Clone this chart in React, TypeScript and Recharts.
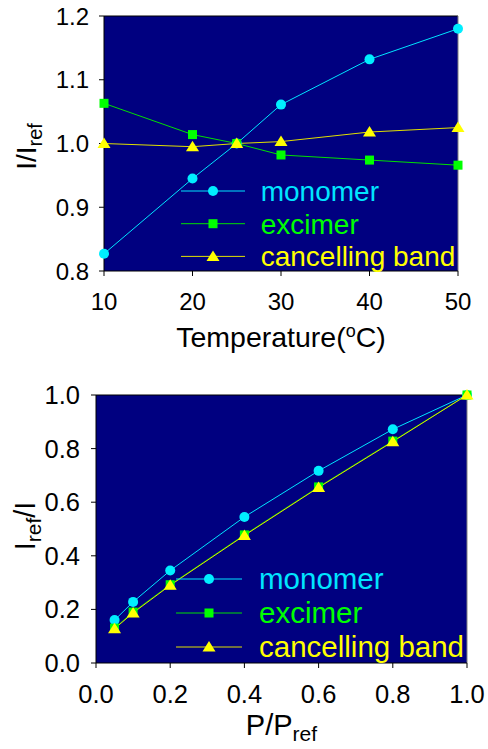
import React from 'react';
import { LineChart, Line, XAxis, YAxis, CartesianGrid, ReferenceLine } from 'recharts';

const FONT = '"Liberation Sans", Arial, sans-serif';

// Top chart data
const temps = [10, 20, 25, 30, 40, 50];
const tMonomer = [0.827, 0.945, 1.0, 1.061, 1.132, 1.180];
const tExcimer = [1.063, 1.014, 1.0, 0.982, 0.974, 0.966];
const tCancel = [1.000, 0.995, 1.0, 1.003, 1.018, 1.025];
const tXTicks = [10, 20, 30, 40, 50];
const tYTicks = [0.8, 0.9, 1.0, 1.1, 1.2];

// Bottom chart data
const pressures = [0.05, 0.1, 0.2, 0.4, 0.6, 0.8, 1.0];
const pMonomer = [0.16, 0.228, 0.345, 0.545, 0.717, 0.872, 1.0];
const pExcimer = [0.13, 0.19, 0.292, 0.478, 0.657, 0.828, 1.0];
const pCancel = [0.128, 0.187, 0.290, 0.476, 0.655, 0.826, 1.0];
const pXTicks = [0.0, 0.2, 0.4, 0.6, 0.8, 1.0];
const pYTicks = [0.0, 0.2, 0.4, 0.6, 0.8, 1.0];

const seriesNames = ['monomer', 'excimer', 'cancelling band'];
const lineColors = ['#00E5FF', '#00E000', '#E0E000'];
const markColors = ['#00EEFF', '#00FF00', '#FFFF00'];
const textColors = ['#00E5FF', '#00FF00', '#FFFF00'];

const topData = temps.map((t, i) => ({ x: t, m: tMonomer[i], e: tExcimer[i], c: tCancel[i] }));
const botData = pressures.map((p, i) => ({ x: p, m: pMonomer[i], e: pExcimer[i], c: pCancel[i] }));

const Marker = ({ kind, cx, cy, color }: any) => {
  if (cx == null || cy == null) return null;
  if (kind === 0) return <circle cx={cx} cy={cy} r={5} fill={color} stroke="none" />;
  if (kind === 1) return <rect x={cx - 4.5} y={cy - 4.5} width={9} height={9} fill={color} stroke="none" />;
  return <polygon points={`${cx},${cy - 6} ${cx - 6.5},${cy + 4.5} ${cx + 6.5},${cy + 4.5}`} fill={color} stroke="none" />;
};

const dotFn = (kind: number) => (props: any) => (
  <Marker key={`d-${kind}-${props.index}`} kind={kind} cx={props.cx} cy={props.cy} color={markColors[kind]} />
);

const LegendBox = ({ left, top, x0, x1, rowGap, textX, fontSize }: any) => (
  <svg width={300} height={rowGap * 3 + 20}
    style={{ position: 'absolute', left, top, overflow: 'visible', display: 'block', pointerEvents: 'none' }}>
    {seriesNames.map((n, i) => {
      const y = 14 + i * rowGap;
      return (
        <g key={n}>
          <line x1={x0} x2={x1} y1={y} y2={y} stroke={lineColors[i]} strokeWidth={1} />
          <Marker kind={i} cx={(x0 + x1) / 2} cy={y} color={markColors[i]} />
          <text x={textX} y={y + 10} fill={textColors[i]} fontSize={fontSize} fontFamily={FONT}>{n}</text>
        </g>
      );
    })}
  </svg>
);

const tickStyle = { fontSize: 24, fill: '#000', fontFamily: FONT };
const tickStyleB = { fontSize: 25.5, fill: '#000', fontFamily: FONT };

const TopXLabel = (props: any) => {
  const vb = props.viewBox || {};
  const cx = vb.x + vb.width / 2;
  const y = vb.y + 76;
  return (
    <text x={cx} y={y} textAnchor="middle" fontSize={28.5} fontFamily={FONT} fill="#000">
      Temperature(<tspan dy={-10} fontSize={18}>o</tspan><tspan dy={10}>C)</tspan>
    </text>
  );
};

const TopYLabel = (props: any) => {
  const vb = props.viewBox || {};
  const cx = vb.x + 36;
  const cy = vb.y + vb.height / 2 + 3;
  return (
    <text x={cx} y={cy} transform={`rotate(-90, ${cx}, ${cy})`} textAnchor="middle" fontSize={28} fontFamily={FONT} fill="#000">
      I/I<tspan dy={6} fontSize={20}>ref</tspan>
    </text>
  );
};

const BotXLabel = (props: any) => {
  const vb = props.viewBox || {};
  const cx = vb.x + vb.width / 2;
  const y = vb.y + 72;
  return (
    <text x={cx} y={y} textAnchor="middle" fontSize={29} fontFamily={FONT} fill="#000">
      P/P<tspan dy={6} fontSize={21}>ref</tspan>
    </text>
  );
};

const BotYLabel = (props: any) => {
  const vb = props.viewBox || {};
  const cx = vb.x + 35;
  const cy = vb.y + vb.height / 2 - 3;
  return (
    <text x={cx} y={cy} transform={`rotate(-90, ${cx}, ${cy})`} textAnchor="middle" fontSize={29} fontFamily={FONT} fill="#000">
      I<tspan dy={6} fontSize={21}>ref</tspan><tspan dy={-6}>/I</tspan>
    </text>
  );
};

export default function App() {
  return (
    <div style={{ position: 'absolute', left: 0, top: 0, width: 488, height: 749, background: '#fff' }}>
      <div style={{ position: 'absolute', left: 0, top: 0 }}>
        <LineChart width={488} height={380} data={topData} margin={{ top: 16, right: 30, left: 0, bottom: 9 }}>
          <CartesianGrid fill="#000080" horizontal={false} vertical={false} stroke="none" />
          <XAxis dataKey="x" type="number" domain={[10, 50]} ticks={tXTicks} interval={0}
            tick={tickStyle} tickLine={{ stroke: '#000' }} axisLine={{ stroke: '#000' }}
            tickSize={5} tickMargin={17} height={100} label={<TopXLabel />} />
          <YAxis type="number" domain={[0.8, 1.2]} ticks={tYTicks} interval={0}
            tickFormatter={(v: number) => v.toFixed(1)}
            tick={tickStyle} tickLine={{ stroke: '#000' }} axisLine={{ stroke: '#000' }}
            tickSize={5} tickMargin={10} width={104} label={<TopYLabel />} />
          <ReferenceLine y={1.2} stroke="#000" strokeWidth={1} />
          <ReferenceLine x={50} stroke="#808080" strokeWidth={1} />
          <Line dataKey="m" stroke={lineColors[0]} strokeWidth={1} dot={dotFn(0)} isAnimationActive={false} />
          <Line dataKey="e" stroke={lineColors[1]} strokeWidth={1} dot={dotFn(1)} isAnimationActive={false} />
          <Line dataKey="c" stroke={lineColors[2]} strokeWidth={1} dot={dotFn(2)} isAnimationActive={false} />
        </LineChart>
        <LegendBox left={175} top={177} x0={6} x1={70} rowGap={32.7} textX={85.7} fontSize={28} />
      </div>
      <div style={{ position: 'absolute', left: 0, top: 380 }}>
        <LineChart width={488} height={369} data={botData} margin={{ top: 15, right: 21, left: 0, bottom: 6 }}>
          <CartesianGrid fill="#000080" horizontal={false} vertical={false} stroke="none" />
          <XAxis dataKey="x" type="number" domain={[0, 1]} ticks={pXTicks} interval={0}
            tickFormatter={(v: number) => v.toFixed(1)}
            tick={tickStyleB} tickLine={{ stroke: '#000' }} axisLine={{ stroke: '#000' }}
            tickSize={5} tickMargin={17} height={80} label={<BotXLabel />} />
          <YAxis type="number" domain={[0, 1]} ticks={pYTicks} interval={0}
            tickFormatter={(v: number) => v.toFixed(1)}
            tick={tickStyleB} tickLine={{ stroke: '#000' }} axisLine={{ stroke: '#000' }}
            tickSize={5} tickMargin={11} width={96} label={<BotYLabel />} />
          <ReferenceLine y={1} stroke="#000" strokeWidth={1} />
          <ReferenceLine x={1} stroke="#808080" strokeWidth={1} />
          <Line dataKey="m" stroke={lineColors[0]} strokeWidth={1} dot={dotFn(0)} isAnimationActive={false} />
          <Line dataKey="e" stroke={lineColors[1]} strokeWidth={1} dot={dotFn(1)} isAnimationActive={false} />
          <Line dataKey="c" stroke={lineColors[2]} strokeWidth={1} dot={dotFn(2)} isAnimationActive={false} />
        </LineChart>
        <LegendBox left={170} top={185} x0={6} x1={72} rowGap={34} textX={89} fontSize={29.5} />
      </div>
    </div>
  );
}
